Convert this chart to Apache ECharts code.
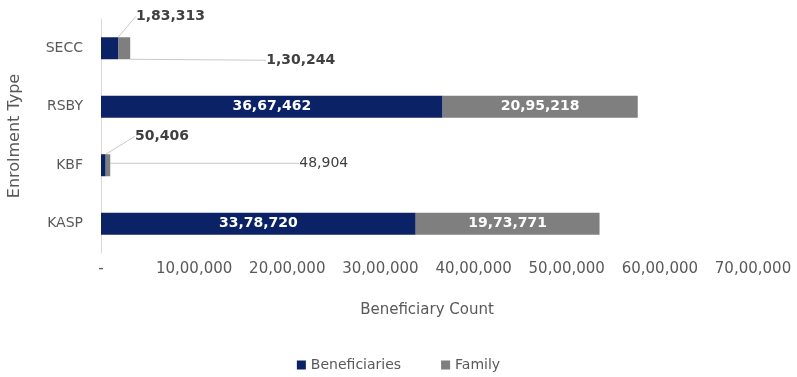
<!DOCTYPE html>
<html>
<head>
<meta charset="utf-8">
<script src="https://cdn.jsdelivr.net/npm/echarts@6/dist/echarts.min.js"></script>
<style>
  html, body { margin: 0; padding: 0; background: #fff; }
  #chart { width: 797px; height: 377px; }
</style>
</head>
<body>
<div id="chart"></div>
<script>
// Enrolment types, top to bottom
const categories = ['SECC', 'RSBY', 'KBF', 'KASP'];
const beneficiaries = [183313, 3667462, 50406, 3378720];
const family = [130244, 2095218, 48904, 1973771];
const xTicks = [0, 1000000, 2000000, 3000000, 4000000, 5000000, 6000000, 7000000];

// Indian digit grouping: 36,67,462
function fmtIN(v) {
  const s = String(Math.round(v));
  if (s.length <= 3) return s;
  const last3 = s.slice(-3);
  let rest = s.slice(0, -3);
  const parts = [];
  while (rest.length > 2) { parts.unshift(rest.slice(-2)); rest = rest.slice(0, -2); }
  if (rest.length) parts.unshift(rest);
  return parts.join(',') + ',' + last3;
}

const FONT = 'DejaVu Sans';
const NAVY = '#0c2266';
const GREY = '#7f7f7f';
const SMALL = 500000; // segments too narrow to hold their own label

// callout offsets for the narrow segments (label anchor relative to the bar rect)
const calloutOffset = {
  0: { SECC: [35, -21], KBF: [34, -18] },
  1: { SECC: [136, 23], KBF: [189, 9] }
};

function makeData(values, seriesIdx) {
  return values.map((v, i) => {
    if (v >= SMALL) return v;
    return {
      value: v,
      label: {
        position: 'insideLeft',
        color: '#404040',
        fontWeight: seriesIdx === 1 && categories[i] === 'KBF' ? 'normal' : 'bold'
      },
      labelLine: { show: true, lineStyle: { color: '#c8c8c8', width: 1 } }
    };
  });
}

function layoutFor(seriesIdx) {
  return function (p) {
    const cat = categories[p.dataIndex];
    const v = seriesIdx === 0 ? beneficiaries[p.dataIndex] : family[p.dataIndex];
    if (v >= SMALL) return {};
    const off = calloutOffset[seriesIdx][cat];
    const baseX = seriesIdx === 0 ? p.rect.x : p.rect.x + p.rect.width;
    return {
      x: baseX + off[0],
      y: p.rect.y + off[1],
      align: 'left',
      verticalAlign: 'middle'
    };
  };
}

const labelBase = {
  show: true,
  position: 'inside',
  color: '#ffffff',
  fontFamily: FONT,
  fontSize: 14,
  fontWeight: 'bold',
  formatter: p => fmtIN(p.value)
};

const chart = echarts.init(document.getElementById('chart'), null, { renderer: 'canvas' });
chart.setOption({
  animation: false,
  textStyle: { fontFamily: FONT },
  grid: { left: 101, right: 44, top: 19, bottom: 124, containLabel: false, outerBoundsMode: 'none' },
  xAxis: {
    type: 'value',
    min: 0,
    max: xTicks[xTicks.length - 1],
    interval: xTicks[1] - xTicks[0],
    name: 'Beneficiary Count',
    nameLocation: 'middle',
    nameGap: 50,
    nameTextStyle: { color: '#595959', fontSize: 15, fontFamily: FONT },
    axisLine: { show: false },
    axisTick: { show: false },
    splitLine: { show: false },
    axisLabel: {
      color: '#595959',
      fontSize: 15,
      fontFamily: FONT,
      margin: 9,
      formatter: v => (v === 0 ? '-' : fmtIN(v))
    }
  },
  yAxis: {
    type: 'category',
    inverse: true,
    data: categories,
    name: 'Enrolment Type',
    nameLocation: 'middle',
    nameGap: 78,
    nameTextStyle: { color: '#595959', fontSize: 16, fontFamily: FONT },
    axisLine: { show: true, lineStyle: { color: '#d9d9d9' } },
    axisTick: { show: false },
    axisLabel: { color: '#595959', fontSize: 14, fontFamily: FONT, margin: 18 }
  },
  legend: {
    bottom: 0,
    left: 'center',
    icon: 'rect',
    itemWidth: 9,
    itemHeight: 9,
    itemGap: 40,
    textStyle: { color: '#595959', fontSize: 14, fontFamily: FONT },
    data: ['Beneficiaries', 'Family']
  },
  series: [
    {
      name: 'Beneficiaries',
      type: 'bar',
      stack: 'total',
      barWidth: 22,
      itemStyle: { color: NAVY },
      label: labelBase,
      labelLayout: layoutFor(0),
      data: makeData(beneficiaries, 0)
    },
    {
      name: 'Family',
      type: 'bar',
      stack: 'total',
      barWidth: 22,
      itemStyle: { color: GREY },
      label: labelBase,
      labelLayout: layoutFor(1),
      data: makeData(family, 1)
    }
  ]
});
</script>
</body>
</html>
